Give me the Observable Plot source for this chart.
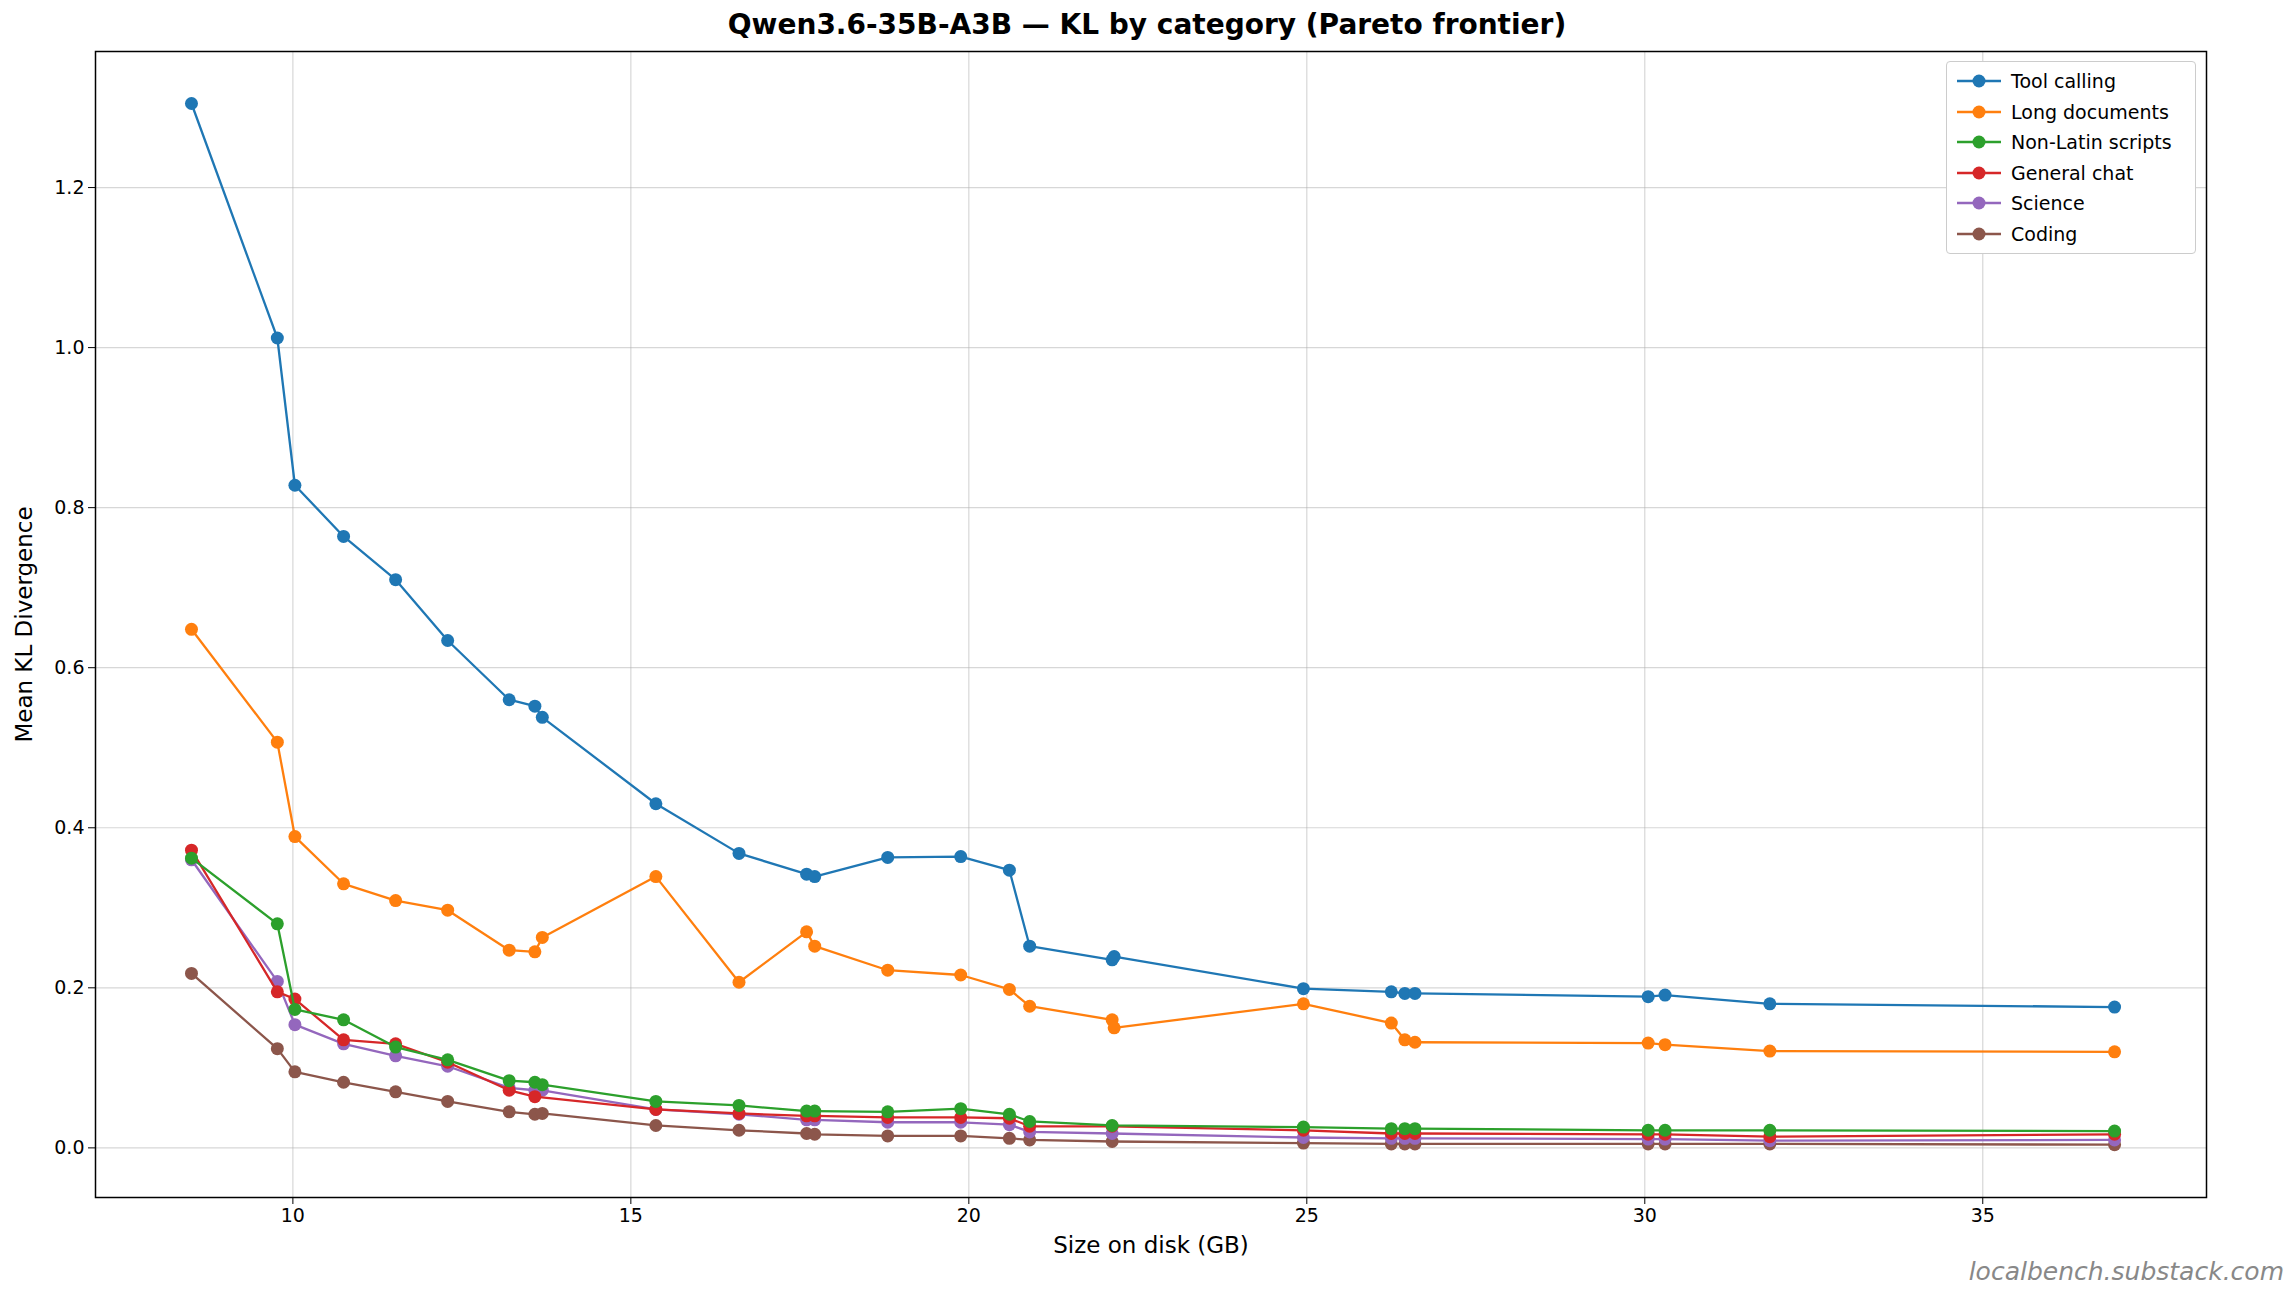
<!DOCTYPE html>
<html><head><meta charset="utf-8">
<script src="https://cdn.jsdelivr.net/npm/d3@7"></script>
<script src="https://cdn.jsdelivr.net/npm/@observablehq/plot@0.6"></script>
<style>
body{margin:0;background:#fff;font-family:"DejaVu Sans",sans-serif;}
#wrap{position:relative;width:2294px;height:1294px;}
#title{position:absolute;top:8px;left:0;width:2294px;text-align:center;font-weight:bold;font-size:28px;}
#legend{position:absolute;left:1946px;top:61px;width:248px;border:1px solid #ccc;border-radius:4px;background:#fff;padding:4px 0;font-size:19px;}
.li{display:flex;align-items:center;height:30.5px;}
.li svg{margin:0 10px 0 10px;}
#cap{position:absolute;right:10px;bottom:8px;font-style:italic;color:#888;font-size:25px;}
</style></head><body>
<div id="wrap"><div id="title">Qwen3.6-35B-A3B — KL by category (Pareto frontier)</div><div id="chart"></div><div id="legend"></div><div id="cap">localbench.substack.com</div></div>
<script>
const sizes=[8.5,9.77,10.03,10.75,11.52,12.29,13.2,13.58,13.69,15.37,16.6,17.6,17.72,18.8,19.88,20.6,20.9,22.12,22.15,24.95,26.25,26.45,26.6,30.05,30.3,31.85,36.95];
const toolCalling=[1.305,1.012,0.828,0.764,0.710,0.634,0.560,0.552,0.538,0.430,0.368,0.342,0.339,0.363,0.364,0.347,0.252,0.235,0.239,0.199,0.195,0.193,0.193,0.189,0.191,0.180,0.176];
const longDocs=[0.648,0.507,0.389,0.330,0.309,0.297,0.247,0.245,0.263,0.339,0.207,0.270,0.252,0.222,0.216,0.198,0.177,0.160,0.150,0.180,0.156,0.135,0.132,0.131,0.129,0.121,0.120];
const nonLatin=[0.362,0.280,0.173,0.160,0.126,0.110,0.084,0.082,0.079,0.058,0.053,0.046,0.046,0.045,0.049,0.042,0.033,0.028,null,0.026,0.024,0.024,0.024,0.022,0.022,0.022,0.021];
const generalChat=[0.372,0.195,0.186,0.135,0.130,0.107,0.072,0.064,null,0.048,0.043,0.040,0.040,0.038,0.038,0.037,0.027,0.027,null,0.022,0.018,0.018,0.018,0.017,0.017,0.014,0.017];
const science=[0.360,0.208,0.154,0.130,0.115,0.102,0.075,0.072,0.072,0.048,0.042,0.035,0.035,0.032,0.032,0.029,0.020,0.018,null,0.013,0.012,0.012,0.012,0.011,0.011,0.009,0.010];
const coding=[0.218,0.124,0.095,0.082,0.070,0.058,0.045,0.042,0.043,0.028,0.022,0.018,0.017,0.015,0.015,0.012,0.010,0.008,null,0.006,0.005,0.005,0.005,0.005,0.005,0.005,0.004];
const names=["Tool calling","Long documents","Non-Latin scripts","General chat","Science","Coding"];
const colors=["#1f77b4","#ff7f0e","#2ca02c","#d62728","#9467bd","#8c564b"];
const series=[toolCalling,longDocs,nonLatin,generalChat,science,coding];
const data=[];
series.forEach((s,i)=>s.forEach((v,j)=>{if(v!=null)data.push({cat:names[i],x:sizes[j],y:v});}));
const marks=[Plot.gridX([10,15,20,25,30,35],{stroke:"#b0b0b0",strokeOpacity:0.5,strokeWidth:1.2}),
 Plot.gridY([0,0.2,0.4,0.6,0.8,1.0,1.2],{stroke:"#b0b0b0",strokeOpacity:0.5,strokeWidth:1.2}),
 Plot.frame({stroke:"#000",strokeWidth:1.5})];
[...names].reverse().forEach(n=>{const d=data.filter(e=>e.cat===n);
 marks.push(Plot.line(d,{x:"x",y:"y",stroke:"cat",strokeWidth:2.3}));
 marks.push(Plot.dot(d,{x:"x",y:"y",fill:"cat",r:6.5}));});
marks.push(Plot.axisX({ticks:[10,15,20,25,30,35],tickSize:7,fontSize:19,label:"Size on disk (GB)",labelAnchor:"center",labelArrow:"none",labelOffset:55,tickPadding:4}));
marks.push(Plot.axisY({ticks:[0,0.2,0.4,0.6,0.8,1.0,1.2],tickFormat:d3.format(".1f"),tickSize:7,fontSize:19,label:"Mean KL Divergence",labelAnchor:"center",labelArrow:"none",labelOffset:80,tickPadding:4}));
const chart=Plot.plot({width:2294,height:1294,marginTop:51,marginBottom:97,marginLeft:95,marginRight:88,
 style:{fontFamily:"DejaVu Sans",fontSize:"19px",color:"#000",overflow:"visible"},
 x:{domain:[7.08,38.31]},y:{domain:[-0.062,1.370]},
 color:{domain:names,range:colors},marks});
chart.querySelectorAll("g[aria-label='x-axis label'] text, g[aria-label='y-axis label'] text").forEach(t=>t.style.fontSize="23px");
document.getElementById("chart").append(chart);
const lg=document.getElementById("legend");
names.forEach((n,i)=>{lg.insertAdjacentHTML("beforeend",`<div class="li"><svg width="44" height="14"><line x1="0" y1="7" x2="44" y2="7" stroke="${colors[i]}" stroke-width="2.3"/><circle cx="22" cy="7" r="6.5" fill="${colors[i]}"/></svg>${n}</div>`);});
</script></body></html>
